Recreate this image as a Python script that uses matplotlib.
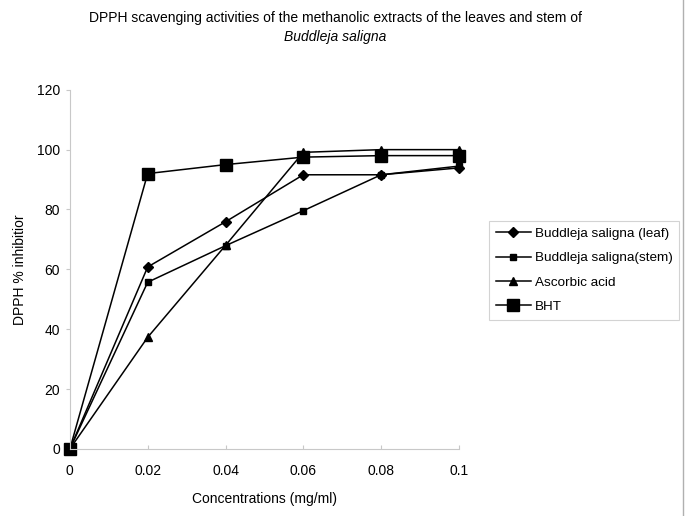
import matplotlib
matplotlib.use("Agg")
import matplotlib.pyplot as plt
from matplotlib.lines import Line2D

plt.rcParams["font.family"] = ["Liberation Sans", "DejaVu Sans"]

conc = [0, 0.02, 0.04, 0.06, 0.08, 0.1]
leaf = [0, 60.8, 75.9, 91.6, 91.6, 93.9]
stem = [0, 55.7, 67.9, 79.6, 91.6, 94.5]
ascorbic = [0, 37.3, 68.0, 99.1, 100.0, 100.0]
bht = [0, 92.0, 95.0, 97.5, 98.0, 98.0]

labels = ["Buddleja saligna (leaf)", "Buddleja saligna(stem)", "Ascorbic acid", "BHT"]
xticks = [0, 0.02, 0.04, 0.06, 0.08, 0.1]
xtick_labels = ["0", "0.02", "0.04", "0.06", "0.08", "0.1"]
yticks = [0, 20, 40, 60, 80, 100, 120]

fig = plt.figure(figsize=(6.85, 5.16), dpi=100)
ax = fig.add_axes([0.102, 0.130, 0.568, 0.696])

ax.plot(conc, leaf, color="black", lw=1.1, marker="D", ms=5, label=labels[0])
ax.plot(conc, stem, color="black", lw=1.1, marker="s", ms=5, label=labels[1])
ax.plot(conc, ascorbic, color="black", lw=1.1, marker="^", ms=6, label=labels[2])
ax.plot(conc, bht, color="black", lw=1.1, marker="s", ms=8.5, label=labels[3])

ax.set_xlim(0, 0.1)
ax.set_ylim(0, 120)
ax.set_xticks(xticks)
ax.set_xticklabels(xtick_labels)
ax.set_yticks(yticks)
for side in ["top", "right"]:
    ax.spines[side].set_visible(False)
for side in ["left", "bottom"]:
    ax.spines[side].set_color("#c8c8c8")
    ax.spines[side].set_clip_on(False)
ax.tick_params(axis="y", direction="out", length=3, color="#c8c8c8", labelsize=10, pad=4)
ax.tick_params(axis="x", direction="in", length=3, color="#c8c8c8", labelsize=10, pad=11)
for line in ax.get_lines():
    line.set_clip_on(False)

ax.set_xlabel("Concentrations (mg/ml)", fontsize=10, labelpad=10)
ax.set_ylabel("DPPH % inhibitior", fontsize=10, labelpad=7)

fig.text(0.49, 0.965, "DPPH scavenging activities of the methanolic extracts of the leaves and stem of",
         ha="center", va="center", fontsize=10)
fig.text(0.49, 0.928, "Buddleja saligna", ha="center", va="center", fontsize=10, style="italic")

leg = ax.legend(loc="upper left", bbox_to_anchor=(489 / 685, 1 - 221 / 516),
                bbox_transform=fig.transFigure, borderaxespad=0, fontsize=9.7,
                frameon=True, fancybox=False, handlelength=2.6, handletextpad=0.3,
                labelspacing=0.88, borderpad=0.5)
leg.get_frame().set_edgecolor("#c8c8c8")
leg.get_frame().set_linewidth(0.8)

fig.add_artist(Line2D([683 / 685, 683 / 685], [0, 1], color="#b0b0b0", lw=1.0,
                      transform=fig.transFigure))

fig.savefig("out.png", dpi=100)
